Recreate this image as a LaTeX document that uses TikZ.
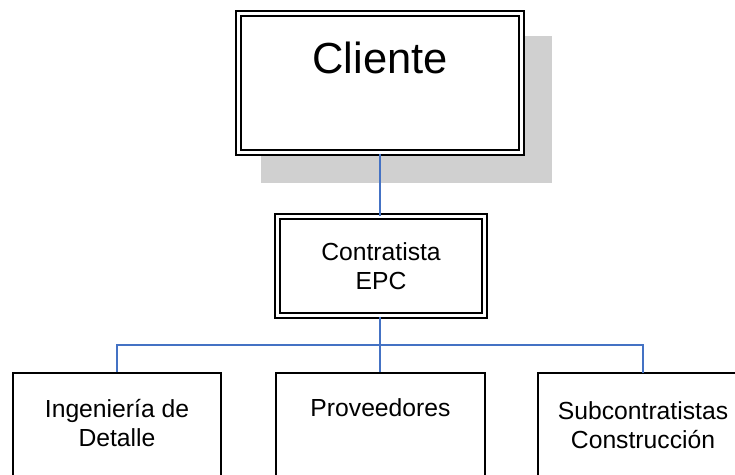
\documentclass[tikz,border=0pt]{standalone}
\usepackage{fontspec}
\setmainfont{Liberation Sans}
\definecolor{connblue}{HTML}{4472C4}
\definecolor{shadowgray}{HTML}{D0D0D0}
\begin{document}
\begin{tikzpicture}[x=1pt,y=-1pt,
  dbox/.style={draw=black, double=white, double distance=3pt, line width=2pt, fill=white, inner sep=0pt},
  sbox/.style={draw=black, line width=2pt, fill=white, inner sep=0pt},
  txt/.style={font=\fontsize{24.7}{28.5}\selectfont, align=center, inner sep=0pt},
  conn/.style={draw=connblue, line width=1.9pt}]
\useasboundingbox (0,0) rectangle (735,474);
\clip (0,0) rectangle (735,474);
% shadow
\fill[shadowgray] (261,36) rectangle (552,183);
% Cliente
\node[dbox, minimum width=283pt, minimum height=139pt] (cliente) at (380,83) {};
\node[font=\fontsize{43.5}{50}\selectfont, inner sep=0pt] (clientetxt) at (380,58) {Cliente};
% Contratista
\node[dbox, minimum width=207pt, minimum height=99pt] (contr) at (381,266) {};
\node[txt] (contrtxt) at (381,266) {Contratista\\EPC};
% bottom boxes
\node[sbox, minimum width=208pt, minimum height=140pt] (b1) at (117,443) {};
\node[sbox, minimum width=209pt, minimum height=140pt] (b2) at (380.5,443) {};
\node[sbox, minimum width=220pt, minimum height=140pt] (b3) at (648,443) {};
\node[txt] (b1txt) at (117,423) {Ingeniería de\\Detalle};
\node[txt] (b2txt) at (380.5,408) {Proveedores};
\node[txt] (b3txt) at (643,425) {Subcontratistas\\Construcción};
% connectors
\coordinate (bus) at (380,345);
\draw[conn] (cliente.south -| contr.north) ++(-1,0) coordinate (cs) (cs) -- (cs |- contr.north);
\draw[conn] (contr.south -| bus) -- (bus);
\draw[conn] (b1.north) |- (bus);
\draw[conn] (bus) -| (643,373) coordinate (b3top);
\draw[conn] (bus) -- (bus |- b2.north);
\end{tikzpicture}
\end{document}
